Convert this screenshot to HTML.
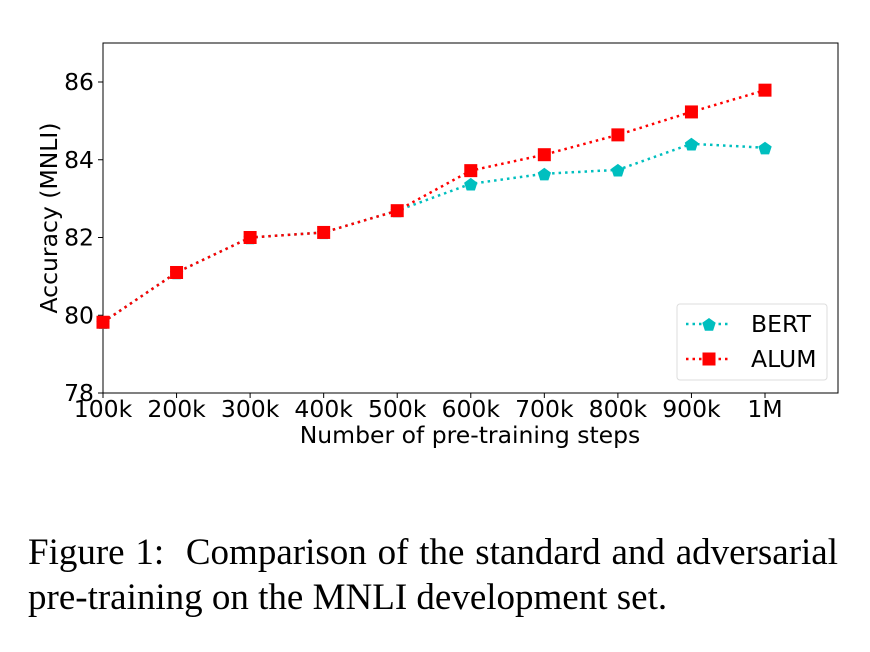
<!DOCTYPE html>
<html><head><meta charset="utf-8"><style>
body{margin:0;background:#fff;width:870px;height:652px;overflow:hidden}
svg text{font-family:"DejaVu Sans",sans-serif}
.cap{position:absolute;left:28px;top:530px;font-family:"Liberation Serif",serif;font-size:37px;line-height:45px;color:#000;width:810px;text-align:justify}
.cap span{display:block;text-align:justify;text-align-last:justify}
</style></head><body>
<svg width="870" height="652" style="position:absolute;left:0;top:0" id="chart"></svg>
<div class="cap"><span>Figure 1:&nbsp; Comparison of the standard and adversarial</span>pre-training on the MNLI development set.</div>
<script>
const categories=["100k","200k","300k","400k","500k","600k","700k","800k","900k","1M"];
const bertValues=[79.82,81.1,82.0,82.13,82.69,83.38,83.64,83.74,84.41,84.31];
const alumValues=[79.82,81.1,82.0,82.13,82.69,83.72,84.13,84.64,85.23,85.79];
const yTicks=[78,80,82,84,86];
const NS="http://www.w3.org/2000/svg";
const svg=document.getElementById('chart');
const L=103,R=838,T=43,B=393;
const FS=23.5;
const xs=i=>L+i*(765-L)/9;
const ys=v=>B-(v-78)*(B-82)/8;
function mk(t,a,p){const e=document.createElementNS(NS,t);for(const k in a)e.setAttribute(k,a[k]);(p||svg).appendChild(e);return e;}
const frame=mk('rect',{x:L,y:T,width:R-L,height:B-T,fill:'none',stroke:'#000','stroke-width':1});


yTicks.forEach(v=>{
 mk('line',{x1:L-5,x2:L,y1:ys(v),y2:ys(v),stroke:'#000'});
 const t=mk('text',{x:L-9,y:ys(v)+8,'text-anchor':'end','font-size':FS});t.textContent=v;
 
 
});
categories.forEach((c,i)=>{
 mk('line',{x1:xs(i),x2:xs(i),y1:B,y2:B+5,stroke:'#000'});
 const t=mk('text',{x:xs(i),y:B+24,'text-anchor':'middle','font-size':FS});t.textContent=c;
 
 
});
let t=mk('text',{x:470,y:443,'text-anchor':'middle','font-size':FS});t.textContent='Number of pre-training steps';

t=mk('text',{x:57,y:218,'text-anchor':'middle','font-size':FS,transform:'rotate(-90 57 218)'});t.textContent='Accuracy (MNLI)';

function pent(cx,cy,r,col,p){let pts=[];for(let k=0;k<5;k++){const a=-Math.PI/2+k*2*Math.PI/5;pts.push((cx+r*Math.cos(a)).toFixed(1)+','+(cy+r*Math.sin(a)).toFixed(1));}return mk('polygon',{points:pts.join(' '),fill:col},p);}
function series(vals,col,marker,name){
 const g=mk('g',{});
 
 
 mk('polyline',{points:vals.map((v,i)=>xs(i)+','+ys(v)).join(' '),fill:'none',stroke:col,'stroke-width':2.5,'stroke-dasharray':'2.5 4'},g);
 vals.forEach((v,i)=>{
  let m=marker==='sq'?mk('rect',{x:xs(i)-6.5,y:ys(v)-6.5,width:13,height:13,fill:col},g):pent(xs(i),ys(v)+1,7,col,g);
  
  
 });
}
series(bertValues,'#00bfbf','pent','bert');
series(alumValues,'#ff0000','sq','alum');
const lg=mk('g',{});


mk('rect',{x:677,y:304,width:150,height:76,rx:3,fill:'#fff',stroke:'#ddd'},lg);
mk('line',{x1:686,x2:731,y1:324,y2:324,stroke:'#00bfbf','stroke-width':2.5,'stroke-dasharray':'2.5 4'},lg);
pent(709,325,7,'#00bfbf',lg);
mk('line',{x1:686,x2:731,y1:359,y2:359,stroke:'#ff0000','stroke-width':2.5,'stroke-dasharray':'2.5 4'},lg);
mk('rect',{x:702.5,y:352.5,width:13,height:13,fill:'#ff0000'},lg);
t=mk('text',{x:751,y:332,'font-size':FS},lg);t.textContent='BERT';

t=mk('text',{x:751,y:367,'font-size':FS},lg);t.textContent='ALUM';

</script>
</body></html>
